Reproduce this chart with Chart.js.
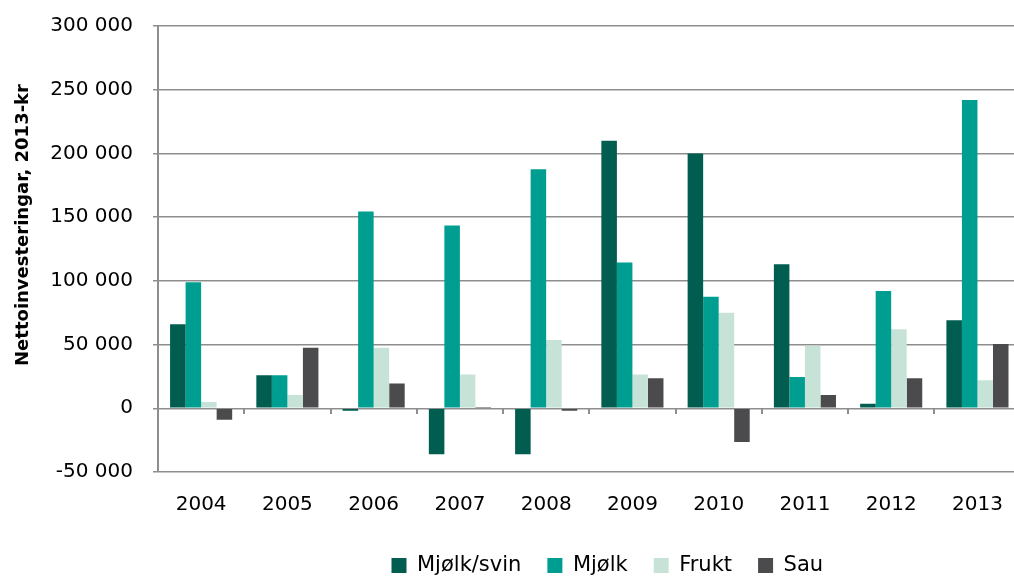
<!DOCTYPE html>
<html>
<head>
<meta charset="utf-8">
<script src="https://cdn.jsdelivr.net/npm/chart.js@4/dist/chart.umd.min.js"></script>
<style>
  html, body { margin: 0; padding: 0; overflow: hidden; background: #fff; width: 1014px; height: 577px; }
  canvas { display: block; margin-top: -6px; }
</style>
</head>
<body>
<canvas id="c" width="1024" height="592"></canvas>
<script>
const years = ['2004', '2005', '2006', '2007', '2008', '2009', '2010', '2011', '2012', '2013'];
const mjolkSvin = [66000, 26000, -2000, -36000, -36000, 210000, 200000, 113000, 3500, 69000];
const mjolk = [99000, 26000, 154500, 143500, 187500, 114500, 87500, 24500, 92000, 242000];
const frukt = [5000, 10500, 47500, 26500, 53500, 26500, 75000, 49000, 62000, 22000];
const sau = [-9000, 47500, 19500, 1000, -2000, 23500, -26500, 10500, 23500, 50500];
const seriesNames = ['Mjølk/svin', 'Mjølk', 'Frukt', 'Sau'];
const yTicks = [-50000, 0, 50000, 100000, 150000, 200000, 250000, 300000];
const yTitle = 'Nettoinvesteringar, 2013-kr';

const FONT = '"DejaVu Sans", sans-serif';
const GRID = '#8e8e8e';

function fmt(v) {
  const s = String(Math.abs(v)).replace(/\B(?=(\d{3})+(?!\d))/g, ' ');
  return (v < 0 ? '-' : '') + s;
}

const yTitlePlugin = {
  id: 'yTitlePlugin',
  afterLayout(chart) {
    // Excel places the legend slightly right of the plot-area centre
    if (chart.legend) {
      chart.legend.left += 18;
      chart.legend.right += 18;
    }
  },
  afterDraw(chart) {
    const ctx = chart.ctx;
    ctx.save();
    ctx.translate(23, 231);
    ctx.rotate(-Math.PI / 2);
    ctx.font = 'bold 18px ' + FONT;
    ctx.fillStyle = '#000';
    ctx.textAlign = 'center';
    ctx.textBaseline = 'middle';
    ctx.fillText(yTitle, 0, 0);
    ctx.restore();
  }
};

const colors = ['#005d50', '#009e90', '#c7e3d7', '#4b4b4d'];
const values = [mjolkSvin, mjolk, frukt, sau];

new Chart(document.getElementById('c'), {
  type: 'bar',
  data: {
    labels: years,
    datasets: values.map((d, i) => ({
      label: seriesNames[i],
      data: d,
      backgroundColor: colors[i],
      borderWidth: 0,
      categoryPercentage: 0.72,
      barPercentage: 1.0
    }))
  },
  options: {
    responsive: false,
    animation: false,
    devicePixelRatio: 1,
    layout: { padding: { left: 0, right: 2, top: 10, bottom: 0 } },
    plugins: {
      legend: {
        position: 'bottom',
        fullSize: false,
        labels: {
          font: { family: FONT, size: 21 },
          color: '#000',
          boxWidth: 15,
          boxHeight: 15,
          padding: 26
        }
      },
      tooltip: { enabled: false }
    },
    scales: {
      y: {
        min: -50000,
        max: 300000,
        afterBuildTicks(scale) { scale.ticks = yTicks.map(v => ({ value: v })); },
        afterFit(scale) { scale.width = 158; },
        ticks: {
          font: { family: FONT, size: 20 },
          color: '#000',
          padding: 20,
          callback: v => fmt(v)
        },
        grid: { color: GRID, lineWidth: 1.5, tickLength: 5 },
        border: { display: true, color: GRID, width: 2 }
      },
      x: {
        grid: { display: false, drawTicks: false },
        border: { display: false },
        afterFit(scale) { scale.height = 57; },
        ticks: {
          font: { family: FONT, size: 20 },
          color: '#000',
          padding: 21,
          maxRotation: 0
        }
      },
      x2: {
        type: 'category',
        axis: 'x',
        labels: years,
        offset: true,
        position: { y: 0 },
        ticks: { display: false },
        grid: { display: true, drawOnChartArea: false, offset: true, tickLength: 6, color: GRID, lineWidth: 2 },
        border: { display: false }
      }
    }
  },
  plugins: [yTitlePlugin]
});
</script>
</body>
</html>
